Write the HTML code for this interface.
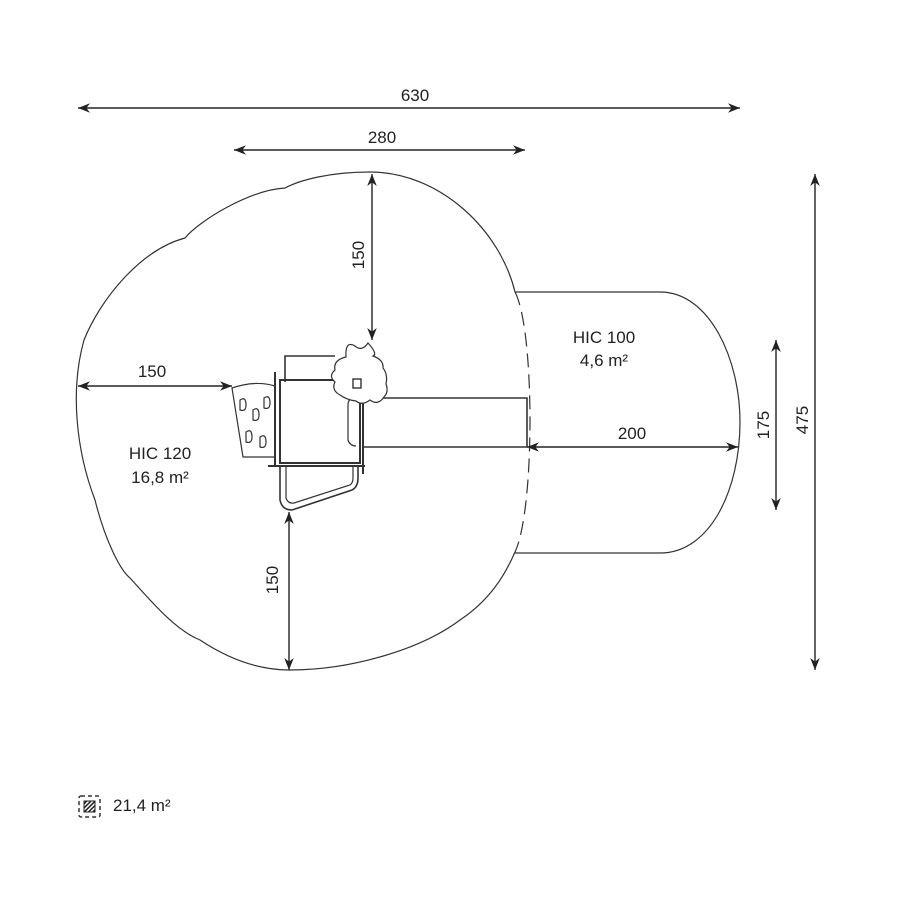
<!DOCTYPE html>
<html><head><meta charset="utf-8"><style>
html,body{margin:0;padding:0;background:#fff;}
svg{display:block;font-family:"Liberation Sans",sans-serif;}
text{fill:#222;font-size:17px;}
</style></head><body>
<svg width="900" height="900" viewBox="0 0 900 900">
<defs>
<marker id="a" viewBox="0 0 10 10" refX="10" refY="5" markerWidth="12" markerHeight="12" markerUnits="userSpaceOnUse" orient="auto-start-reverse"><path d="M0,1 L10,5 L0,9 L3,5 Z" fill="#222"/></marker>
<pattern id="h" width="3" height="3" patternUnits="userSpaceOnUse" patternTransform="rotate(45)"><rect width="1.5" height="3" fill="#222"/></pattern>
</defs>
<g fill="none" stroke="#333" stroke-width="1.2">
<path d="M515,292 C500,230 440,172 370,172 C330,172 300,180 285,188 C250,190 200,220 185,238 C140,250 100,300 84,340 C70,390 76,450 95,500 C105,540 120,570 130,578 C150,600 175,630 200,640 C230,660 260,670 290,670 C350,670 420,650 460,620 C490,600 505,575 515,552"/>
<path d="M515,292 C535,330 535,510 515,552" stroke-dasharray="14,7"/>
<path d="M515,292 H660 C710,292 740,360 740,422 C740,490 710,553 660,553 H515"/>
</g>
<g stroke="#222" stroke-width="1.4" fill="none">
<line x1="78" y1="108" x2="740" y2="108" marker-start="url(#a)" marker-end="url(#a)"/>
<line x1="234" y1="150" x2="525" y2="150" marker-start="url(#a)" marker-end="url(#a)"/>
<line x1="372" y1="174" x2="372" y2="340" marker-start="url(#a)" marker-end="url(#a)"/>
<line x1="78" y1="386" x2="232" y2="386" marker-start="url(#a)" marker-end="url(#a)"/>
<line x1="289" y1="512" x2="289" y2="670" marker-start="url(#a)" marker-end="url(#a)"/>
<line x1="527" y1="447" x2="738" y2="447" marker-start="url(#a)" marker-end="url(#a)"/>
<line x1="776" y1="340" x2="776" y2="510" marker-start="url(#a)" marker-end="url(#a)"/>
<line x1="815" y1="174" x2="815" y2="670" marker-start="url(#a)" marker-end="url(#a)"/>
</g>
<g fill="none" stroke="#333" stroke-width="1.2">
<path d="M232,388 Q255,380 275,386 L275,457 L243,457 Z"/>
<path d="M240,400 q6,-4 6,5 q0,7 -6,5 z M253,410 q6,-4 6,5 q0,7 -6,5 z M264,398 q6,-4 6,5 q0,7 -6,5 z M246,432 q6,-4 6,5 q0,7 -6,5 z M260,437 q6,-4 6,5 q0,7 -6,5 z"/>
<rect x="280" y="380" width="80" height="83" stroke-width="2"/>
<line x1="275" y1="372" x2="275" y2="466" stroke-width="2"/>
<line x1="268" y1="466" x2="365" y2="466" stroke-width="2"/>
<line x1="363" y1="400" x2="363" y2="474" stroke-width="2"/>
<path d="M285,382 V356 H335" stroke-width="1.6"/>
<path d="M280,466 V500 Q282,510 292,510 L352,490 Q358,487 358,478 V466" stroke-width="1.6"/>
<path d="M286,466 V498 Q288,504 294,503 L350,485 Q353,483 353,478 V466"/>
<path d="M363,398 H527 V447 H363" stroke-width="1.6"/>
<path d="M355,398 Q348,398 348,405 V440 Q350,446 356,446"/>
<path d="M346,357 Q345,340 355,346 Q362,352 368,343 Q378,354 373,356 Q384,360 383,368 Q388,374 386,384 Q389,392 384,397 Q378,406 370,400 Q362,406 356,401 Q347,400 340,395 Q331,390 335,382 Q328,376 335,370 Q333,360 346,357 Z" fill="#fff"/>
<rect x="353" y="379" width="8" height="9" stroke-width="1.4"/>
</g>
<rect x="79" y="796" width="21" height="21" rx="2" fill="none" stroke="#333" stroke-dasharray="4,3" stroke-width="1.5"/>
<rect x="84" y="801" width="11" height="11" fill="url(#h)" stroke="#222"/>
<text x="113" y="811" font-size="17">21,4 m²</text>
<text x="415" y="101" text-anchor="middle">630</text>
<text x="382" y="143" text-anchor="middle">280</text>
<text x="152" y="377" text-anchor="middle">150</text>
<text x="632" y="439" text-anchor="middle">200</text>
<text x="604" y="343" text-anchor="middle">HIC 100</text>
<text x="604" y="366" text-anchor="middle">4,6 m²</text>
<text x="160" y="459" text-anchor="middle">HIC 120</text>
<text x="160" y="483" text-anchor="middle">16,8 m²</text>
<text transform="translate(364,255) rotate(-90)" text-anchor="middle">150</text>
<text transform="translate(278,580) rotate(-90)" text-anchor="middle">150</text>
<text transform="translate(769,425) rotate(-90)" text-anchor="middle">175</text>
<text transform="translate(808,420) rotate(-90)" text-anchor="middle">475</text>
</svg>
</body></html>
